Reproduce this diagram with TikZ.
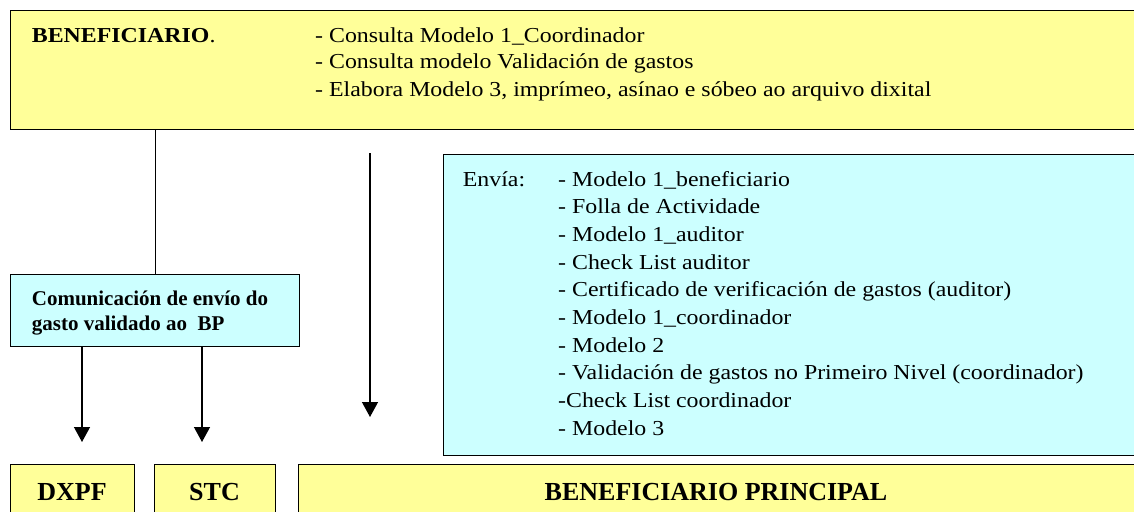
\documentclass[tikz,border=0pt]{standalone}
\usepackage{fontspec}
\setmainfont{Liberation Serif}
\newfontfamily\wideserif[FakeStretch=1.12]{Liberation Serif}
\usetikzlibrary{arrows.meta}
\definecolor{yel}{HTML}{FFFF99}
\definecolor{cya}{HTML}{CCFFFF}
\tikzset{
  ybox/.style={draw=black, fill=yel, line width=1.4pt, rectangle, inner sep=0pt, anchor=north west},
  cbox/.style={draw=black, fill=cya, line width=1.4pt, rectangle, inner sep=0pt, anchor=north west},
  wtxt/.style={anchor=base west, inner sep=0pt, font=\wideserif\fontsize{21.3}{26}\selectfont},
  ctxt/.style={anchor=base west, inner sep=0pt, font=\bfseries\fontsize{21}{25}\selectfont},
  btxt/.style={anchor=base, inner sep=0pt, font=\bfseries\fontsize{26}{30}\selectfont},
  arr/.style={line width=1.3pt, -{Triangle[width=16pt,length=15pt]}},
  conn/.style={line width=1.3pt}
}
\begin{document}
\begin{tikzpicture}[x=1pt,y=-1pt]
\useasboundingbox (0,0) rectangle (1134,511);
\clip (0,0) rectangle (1134,511);
% boxes
\node[ybox, minimum width=1140pt, minimum height=119pt] (top) at (10,10) {};
\node[cbox, minimum width=697pt, minimum height=301pt] (env) at (443,154) {};
\node[cbox, minimum width=289pt, minimum height=72pt] (comm) at (10,274) {};
\node[ybox, minimum width=124pt, minimum height=60pt] (dxpf) at (10,464) {};
\node[ybox, minimum width=121pt, minimum height=60pt] (stc) at (154,464) {};
\node[ybox, minimum width=842pt, minimum height=60pt] (bp) at (298,464) {};
% top texts
\node[wtxt] (tb) at (31.7,42) {\textbf{BENEFICIARIO}.};
\node[wtxt] (t1) at (315,42) {- Consulta Modelo 1\_Coordinador};
\node[wtxt] (t2) at (315,69) {- Consulta modelo Validación de gastos};
\node[wtxt] (t3) at (315,96) {- Elabora Modelo 3, imprímeo, asínao e sóbeo ao arquivo dixital};
% comm texts
\node[ctxt] (c1) at (31.7,305) {Comunicación de envío do};
\node[ctxt] (c2) at (31.7,330) {gasto validado ao\ \ BP};
% envia texts
\node[wtxt] (ev) at (462.7,186) {Envía:};
\foreach \t [count=\i from 0] in {
  {- Modelo 1\_beneficiario},
  {- Folla de Actividade},
  {- Modelo 1\_auditor},
  {- Check List auditor},
  {- Certificado de verificación de gastos (auditor)},
  {- Modelo 1\_coordinador},
  {- Modelo 2},
  {- Validación de gastos no Primeiro Nivel (coordinador)},
  {-Check List coordinador},
  {- Modelo 3}}
  \node[wtxt] (e\i) at (558,186+27.7*\i) {\t};
% bottom labels
\node[btxt] (ld) at (72,500) {DXPF};
\node[btxt] (ls) at (214.5,500) {STC};
\node[btxt] (lb) at (716,500) {BENEFICIARIO PRINCIPAL};
% connectors
\coordinate (a1) at (82,442);
\coordinate (a2) at (202,442);
\coordinate (m0) at (370,153);
\coordinate (m1) at (370,417);
\draw[conn] (comm.north |- top.south) -- (comm.north);
\draw[arr] (comm.south -| a1) -- (a1);
\draw[arr] (comm.south -| a2) -- (a2);
\draw[arr] (m0) -- (m1);
\end{tikzpicture}
\end{document}
